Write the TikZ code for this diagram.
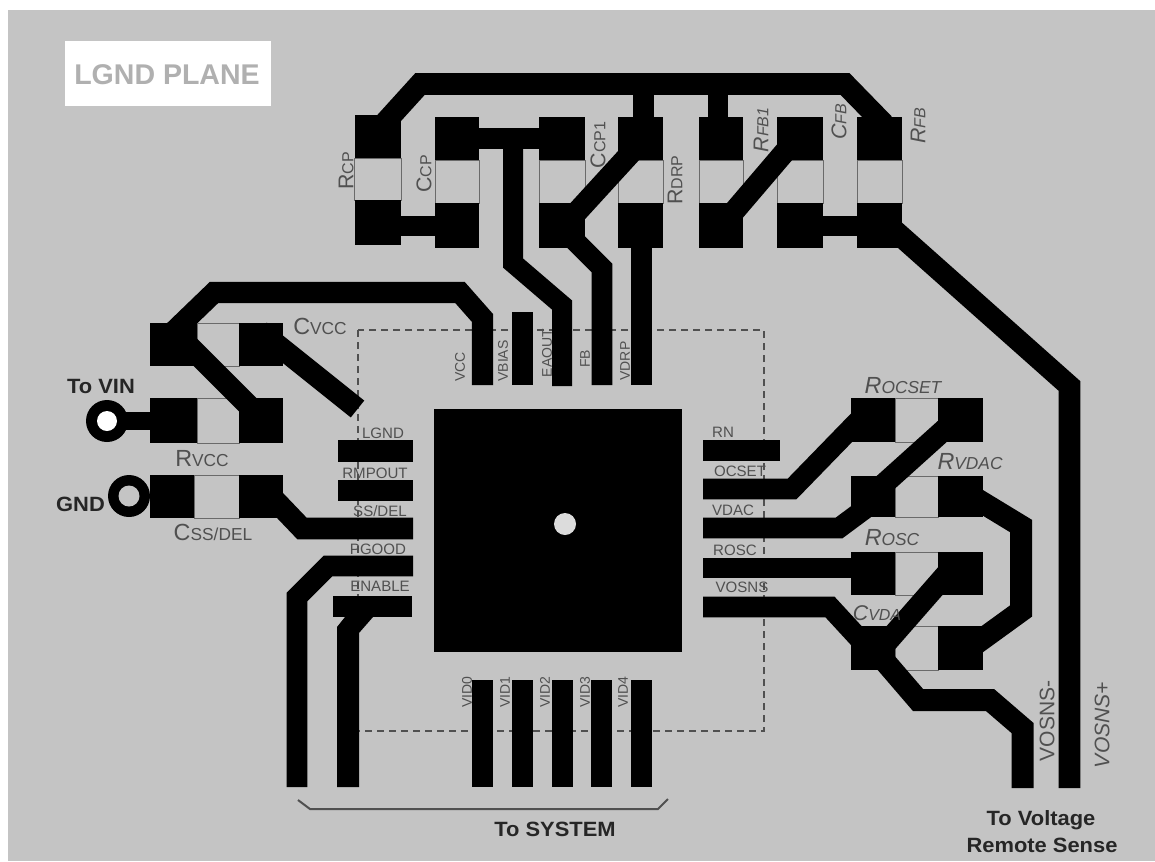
\documentclass[tikz,border=0pt]{standalone}
\usepackage{fontspec}
\setmainfont{Liberation Sans}
\definecolor{boardgrey}{HTML}{C4C4C4}
\definecolor{inkgrey}{HTML}{505050}
\definecolor{outl}{HTML}{6A6A6A}
\newcommand{\smc}[2]{{\fontsize{17.5}{18}\selectfont #1}{\fontsize{13}{14}\selectfont #2}}
\newcommand{\smv}[2]{{\fontsize{16}{18}\selectfont #1}{\fontsize{12}{14}\selectfont #2}}
\tikzset{
  trace/.style={draw=black,line width=16.2pt,line join=miter,miter limit=10},
  pad/.style={fill=black,draw=none},
  body/.style={draw=outl,line width=0.6pt,fill=boardgrey},
  pinlab/.style={text=inkgrey,font=\fontsize{11.3}{12}\selectfont,inner sep=0pt},
  pinrot/.style={text=inkgrey,font=\fontsize{10.5}{11}\selectfont,inner sep=0pt,rotate=90},
  comp/.style={text=inkgrey,inner sep=0pt},
  boldlab/.style={text=black!85,font=\fontsize{15.5}{17}\selectfont\bfseries,inner sep=0pt,xscale=1.06}
}
\newcommand{\hres}[6]{%
  \draw[body] (#2,#5) rectangle (#3,#6);
  \fill[pad] (#1,#5) rectangle (#2,#6);
  \fill[pad] (#3,#5) rectangle (#4,#6);}
\newcommand{\vres}[6]{%
  \draw[body] (#1,#4) rectangle (#2,#5);
  \fill[pad] (#1,#3) rectangle (#2,#4);
  \fill[pad] (#1,#5) rectangle (#2,#6);}
\begin{document}
\begin{tikzpicture}[x=0.75pt,y=-0.75pt]
\useasboundingbox (0,0) rectangle (1155,861);
\fill[white] (0,0) rectangle (1155,861);
\fill[boardgrey] (8,10) rectangle (1155,861);
% plane label
\fill[white] (65,41) rectangle (271,106);
\node[text=boardgrey!90!black,font=\fontsize{21.4}{22}\selectfont\bfseries,inner sep=0pt] (plane) at (167,75) {LGND PLANE};
% dashed outline
\draw[inkgrey,line width=1.3pt,dash pattern=on 5pt off 4pt] (358,330) rectangle (764,731);
% top components
\vres{354.5}{401}{115}{158}{200}{245}
\vres{435}{479}{117}{160}{203}{248}
\vres{539}{585}{117}{160}{203}{248}
\vres{618}{663}{117}{160}{203}{248}
\vres{699}{743}{117}{160}{203}{248}
\vres{777}{823}{117}{160}{203}{248}
\vres{857}{902}{117}{160}{203}{248}
% top traces
\draw[trace] (381,127) -- (420,84) -- (845,84) -- (884,124);
\draw[trace,line width=15.5pt] (643.5,83) -- (643.5,125);
\draw[trace,line width=15pt] (718,83) -- (718,125);
\draw[trace] (470,138.5) -- (550,138.5);
\draw[trace,line width=15pt] (513,138) -- (513,263) -- (562,305) -- (562,386);
\draw[trace] (565,225) -- (640,143);
\draw[trace,line width=15.5pt] (570,236) -- (602,268) -- (602,385);
\draw[trace,line width=15.5pt] (641.5,235) -- (641.5,385);
\draw[trace,line width=14.5pt] (390,226) -- (445,226);
\draw[trace,line width=14.5pt] (810,226) -- (870,226);
\draw[trace] (725,222) -- (795,140);
\draw[trace] (885,222) -- (1069.5,386) -- (1069.5,788);
% VCC
\draw[trace,line width=15.8pt] (172,333) -- (214,292.5) -- (460,292.5) -- (482.5,318) -- (482.5,385);
\fill[pad] (512,312) rectangle (533,385);
% left components
\hres{150}{197}{239}{283}{323}{366}
\hres{150}{197}{239}{283}{398}{443}
\hres{150}{194}{239}{283}{475}{518}
\draw[trace] (180,337) -- (250,407);
\draw[trace] (260,331) -- (357.5,409);
% VIN, GND
\draw[trace,line width=13.5pt] (120,421) -- (155,421);
\fill[black] (107,421) circle (21);
\fill[white] (107,421) circle (10);
\fill[black] (129,496) circle (21);
\fill[boardgrey] (129,496) circle (10.5);
% left pins
\fill[pad] (338,440) rectangle (413,462);
\fill[pad] (338,480) rectangle (413,501);
\draw[trace] (270,495) -- (302,528.5) -- (413,528.5);
\draw[trace,line width=15.5pt] (413,566) -- (328,566) -- (297,597) -- (297,787);
\fill[pad] (333,596) rectangle (412,617);
\fill[pad] (345,617) -- (373,617) -- (359,633) -- (359,787) -- (337,787) -- (337,627) -- cycle;
% centre
\fill[pad] (434,409) rectangle (682,652);
\fill[boardgrey!60!white] (565,524) circle (11);
% bottom pins
\foreach \xa/\xb in {472/493,512/533,552/573,591/612,631/652}
  \fill[pad] (\xa,680) rectangle (\xb,787);
% right pins
\hres{851}{895}{938}{983}{398}{442}
\hres{851}{895}{938}{983}{476}{517}
\hres{851}{895}{938}{983}{552}{595}
\hres{851}{895}{938}{983}{626}{670}
\fill[pad] (703,440) rectangle (780,461);
\draw[trace,line width=15.5pt] (703,489) -- (792,489) -- (862,417);
\draw[trace,line width=15.5pt] (703,528) -- (839,528) -- (870,505);
\draw[trace] (955,420) -- (875,492);
\fill[pad] (703,558) rectangle (860,578);
\draw[trace,line width=15.5pt] (703,607) -- (830,607) -- (865,645);
\draw[trace] (950,570) -- (880,650);
\draw[trace,line width=16.5pt] (970,495) -- (1021,526) -- (1021,611) -- (970,648);
\draw[trace,line width=16.5pt] (875,650) -- (918,700) -- (990,700) -- (1022.5,728) -- (1022.5,788);
% bracket
\draw[inkgrey,line width=1.5pt] (298,800) -- (310,809) -- (658,809) -- (668,799);
% rotated component labels
\node[comp,rotate=90] (lrcp) at (346,171) {\smv{R}{CP}};
\node[comp,rotate=90] (lccp) at (424,174) {\smv{C}{CP}};
\node[comp,rotate=90] (lccpa) at (598,145) {\smv{C}{CP1}};
\node[comp,rotate=90] (lrdrp) at (675,180) {\smv{R}{DRP}};
\node[comp,rotate=90,font=\itshape] (lrfba) at (761,130) {\smv{R}{FB1}};
\node[comp,rotate=90,font=\itshape] (lcfb) at (839,122) {\smv{C}{FB}};
\node[comp,rotate=90,font=\itshape] (lrfb) at (918,126) {\smv{R}{FB}};
% pin labels
\node[pinrot] (pvcc) at (460,367) {VCC};
\node[pinrot] (pvbias) at (503,361) {VBIAS};
\node[pinrot] (peaout) at (547,353) {EAOUT};
\node[pinrot] (pfb) at (585,359) {FB};
\node[pinrot] (pvdrp) at (625,361) {VDRP};
\node[pinlab] (plgnd) at (383,433) {LGND};
\node[pinlab] (prmp) at (375,473) {RMPOUT};
\node[pinlab] (pss) at (380,511) {SS/DEL};
\node[pinlab] (ppg) at (378,549) {PGOOD};
\node[pinlab] (pen) at (380,586) {ENABLE};
\node[pinlab] (pfn) at (723,432) {RN};
\node[pinlab] (pocs) at (740,471) {OCSET};
\node[pinlab] (pvdac) at (733,510) {VDAC};
\node[pinlab] (prosc) at (735,550) {ROSC};
\node[pinlab] (pvos) at (742,587) {VOSNS};
\node[pinrot] (pv0) at (467,692) {VID0};
\node[pinrot] (pv1) at (505,692) {VID1};
\node[pinrot] (pv2) at (545,692) {VID2};
\node[pinrot] (pv3) at (585,692) {VID3};
\node[pinrot] (pv4) at (623,692) {VID4};
% component labels
\node[comp] (lcvcc) at (320,326) {\smc{C}{VCC}};
\node[comp] (lrvcc) at (202,459) {\smc{R}{VCC}};
\node[comp] (lcss) at (213,532) {\smc{C}{SS/DEL}};
\node[comp,font=\itshape] (lrocs) at (903,386) {\smc{R}{OCSET}};
\node[comp,font=\itshape] (lrvd) at (970,462) {\smc{R}{VDAC}};
\node[comp,font=\itshape] (lrosc) at (892,538) {\smc{R}{OSC}};
\node[comp,font=\itshape] (lcvd) at (877,613) {\smv{C}{VDA}};
\node[comp,rotate=90,font=\fontsize{15.8}{16}\selectfont] (lvm) at (1047,721) {VOSNS-};
\node[comp,rotate=90,font=\fontsize{15.8}{16}\selectfont\itshape] (lvp) at (1102,725) {VOSNS+};
\node[boldlab] (lvin) at (101,386) {To VIN};
\node[boldlab] (lgnd) at (80.5,504) {GND};
\node[boldlab] (lsys) at (555,829) {To SYSTEM};
\node[boldlab] (ltv) at (1041,820) {To Voltage};
\node[boldlab] (lrs) at (1042,845) {Remote Sense};
\end{tikzpicture}
\end{document}
